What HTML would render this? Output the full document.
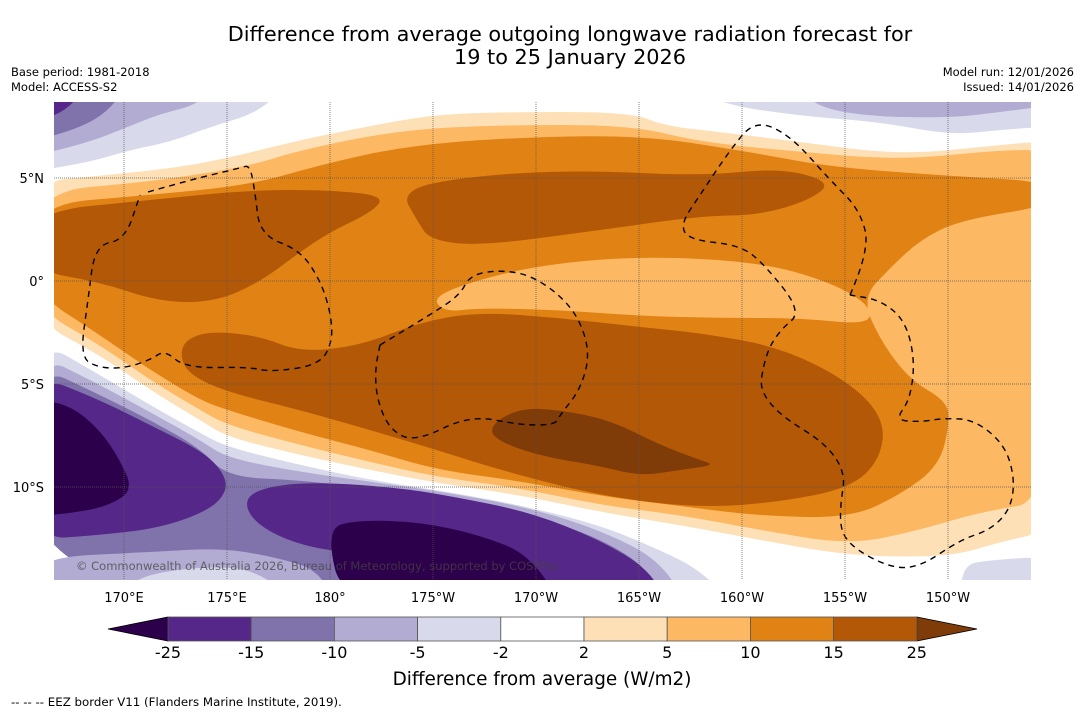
<!DOCTYPE html>
<html><head><meta charset="utf-8"><style>
body{margin:0;background:#fff;font-family:"DejaVu Sans","Liberation Sans",sans-serif;}
#wrap{position:relative;width:1085px;height:713px;overflow:hidden;background:#fff}
</style></head><body>
<div id="wrap">
<svg id="svg" width="1085" height="713" viewBox="0 0 1085 713" xmlns="http://www.w3.org/2000/svg" font-family="DejaVu Sans, Liberation Sans, sans-serif">
<text x="570" y="41" font-size="20.8" text-anchor="middle">Difference from average outgoing longwave radiation forecast for</text>
<text x="570" y="64" font-size="20.8" text-anchor="middle">19 to 25 January 2026</text>
<text x="11" y="76" font-size="11.5">Base period: 1981-2018</text>
<text x="11" y="91" font-size="11.5">Model: ACCESS-S2</text>
<text x="1074" y="76" font-size="11.5" text-anchor="end">Model run: 12/01/2026</text>
<text x="1074" y="91" font-size="11.5" text-anchor="end">Issued: 14/01/2026</text>
<defs><clipPath id="mc"><rect x="54" y="102" width="977" height="478"/></clipPath></defs>
<g id="map" clip-path="url(#mc)"></g>
<g id="cbar"></g>
<text x="542" y="685" font-size="18.4" text-anchor="middle">Difference from average (W/m2)</text>
<text x="11" y="706" font-size="11.8">--  --  -- EEZ border V11 (Flanders Marine Institute, 2019).</text>
</svg>
</div>
<script>
const levels=[-25,-15,-10,-5,-2,2,5,10,15,25];
const colors=["#2d004b","#542788","#8073ac","#b2abd2","#d8daeb","#ffffff","#fee0b6","#fdb863","#e08214","#b35806","#7f3b08"];
const lonLabels=["170°E","175°E","180°","175°W","170°W","165°W","160°W","155°W","150°W"];
const lonValues=[170,175,180,185,190,195,200,205,210];
const latLabels=["5°N","0°","5°S","10°S"];
const latValues=[5,0,-5,-10];
const NS="http://www.w3.org/2000/svg";
const svg=document.getElementById('svg'),map=document.getElementById('map'),cbar=document.getElementById('cbar');
const xLon=l=>124+(l-170)*20.6, yLat=l=>281-l*20.6;
function mk(t,a,p){const e=document.createElementNS(NS,t);for(const k in a)e.setAttribute(k,a[k]);(p||svg).appendChild(e);return e;}
function smooth(pts,closed){
 let n=pts.length;let d="";
 if(closed){
  const m=i=>{const a=pts[i%n],b=pts[(i+1)%n];return[(a[0]+b[0])/2,(a[1]+b[1])/2]};
  let s=m(n-1);d="M"+s[0]+","+s[1];
  for(let i=0;i<n;i++){const q=m(i);d+=" Q"+pts[i][0]+","+pts[i][1]+" "+q[0]+","+q[1];}
  return d+"Z";
 }
 d="M"+pts[0][0]+","+pts[0][1];
 for(let i=1;i<n-1;i++){const q=[(pts[i][0]+pts[i+1][0])/2,(pts[i][1]+pts[i+1][1])/2];d+=" Q"+pts[i][0]+","+pts[i][1]+" "+q[0]+","+q[1];}
 return d+" L"+pts[n-1][0]+","+pts[n-1][1];
}
function ext(pts){return pts.map(p=>[p[0]<=54?30:(p[0]>=1031?1055:p[0]),p[1]>=580?610:(p[1]<=102?80:p[1])]);}
function region(pts,ci,name){const p=mk('path',{d:smooth(ext(pts),true),fill:colors[ci]},map);

}
mk('rect',{x:54,y:102,width:977,height:478,fill:'#fff'},map);
const o1top=[[54,182],[100,176],[200,165],[300,140],[360,128],[430,115],[500,112],[630,112],[665,126],[720,132],[800,142],[900,155],[1000,145],[1031,140]];
const o1bot=[[1031,530],[1000,542],[950,557],[850,556],[760,540],[680,525],[600,512],[520,495],[437,483],[370,470],[300,455],[227,437],[200,420],[150,390],[100,355],[54,318]];
region(o1top.concat(o1bot),6,'band-2-5');
region([[54,192],[150,182],[250,166],[300,150],[400,130],[500,125],[630,125],[700,142],[800,152],[900,160],[1000,150],[1031,150],[1031,500],[980,512],[920,530],[850,545],[760,530],[680,515],[600,505],[520,488],[437,477],[370,462],[300,445],[227,425],[200,410],[150,380],[100,345],[54,305]],7,'band-5-10');
region([[54,205],[150,195],[250,185],[320,165],[400,147],[500,138],[640,135],[750,152],[830,167],[950,176],[1031,182],[1031,205],[960,220],[920,240],[890,268],[862,298],[880,340],[910,380],[945,400],[950,420],[940,465],[900,495],[850,518],[760,516],[680,506],[600,496],[520,481],[437,470],[370,450],[300,432],[227,410],[200,400],[150,370],[100,335],[54,290]],8,'band-10-15');
region([[432,298],[470,282],[540,265],[640,256],[760,262],[830,282],[870,305],[870,325],[800,318],[720,318],[640,316],[560,310],[480,308],[445,312]],7,'band-5-10-centre');
region([[54,212],[150,200],[250,190],[330,190],[385,196],[372,212],[330,232],[300,252],[260,282],[215,302],[160,302],[100,282],[54,270]],9,'band-15-25-west');
region([[400,190],[470,176],[580,170],[700,176],[780,168],[832,182],[810,200],[760,215],[700,216],[600,230],[480,246],[430,240],[418,222]],9,'band-15-25-north');
region([[185,340],[210,331],[260,336],[300,352],[360,346],[420,322],[480,312],[560,318],[640,327],[700,333],[780,347],[850,382],[885,420],[880,460],[850,488],[780,502],[700,508],[600,496],[500,470],[437,450],[370,430],[300,410],[227,392],[190,375],[180,357]],9,'band-15-25-south');
region([[490,425],[520,408],[560,410],[610,420],[660,445],[700,460],[715,465],[680,470],[640,476],[600,466],[540,456],[495,440]],10,'band-above-25');
region([[54,335],[100,375],[150,405],[200,433],[227,447],[300,465],[370,480],[437,490],[520,505],[600,525],[660,550],[700,570],[740,590],[54,590]],4,'band-m5-m2');
region([[54,350],[100,385],[150,412],[200,440],[227,458],[300,472],[380,483],[450,493],[530,508],[600,530],[660,560],[690,590],[54,590]],3,'band-m10-m5');
region([[54,362],[100,395],[150,420],[200,448],[227,477],[300,480],[380,490],[450,500],[530,515],[600,538],[650,570],[665,590],[54,590]],2,'band-m15-m10');
region([[54,372],[100,400],[150,425],[200,450],[222,470],[228,490],[210,510],[160,528],[100,535],[54,540]],1,'band-m25-m15-west');
region([[245,497],[270,486],[320,482],[400,488],[450,496],[530,512],[600,540],[650,570],[670,590],[560,590],[480,566],[400,552],[330,552],[280,538],[250,518]],1,'band-m25-m15-south');
region([[54,398],[70,405],[100,430],[120,460],[133,490],[110,505],[80,512],[54,517]],0,'band-below-m25-west');
region([[325,528],[360,520],[420,522],[480,535],[530,555],[565,590],[345,590]],0,'band-below-m25-south');
region([[54,558],[150,552],[220,548],[270,556],[320,570],[335,590],[54,590]],3,'band-m10-m5-sw');
region([[130,578],[200,566],[260,570],[300,590],[120,590]],4,'band-m5-m2-sw');
region([[960,590],[962,565],[990,560],[1031,556],[1040,590]],4,'band-m5-m2-se');
region([[40,90],[300,90],[290,102],[260,112],[210,127],[170,142],[130,150],[90,162],[54,172],[40,175]],4,'band-m5-m2-nw');
region([[40,90],[215,90],[200,104],[160,114],[130,126],[90,142],[54,157],[40,160]],3,'band-m10-m5-nw');
region([[40,90],[130,90],[110,110],[80,128],[54,142],[40,145]],2,'band-m15-m10-nw');
region([[40,90],[85,90],[72,108],[54,125],[40,128]],1,'band-m25-m15-nw');
region([[680,90],[1040,90],[1040,126],[1000,130],[950,135],[880,122],[800,116],[720,104]],4,'band-m5-m2-ne');
region([[800,90],[1040,90],[1040,105],[1000,112],[950,118],[860,116],[810,104]],3,'band-m10-m5-ne');
lonValues.forEach((l,i)=>{const x=xLon(l);const g=mk('line',{x1:x,y1:102,x2:x,y2:580,stroke:'#555','stroke-width':0.7,'stroke-dasharray':'1,1'});

const t=mk('text',{x:x,y:602,'font-size':13,'text-anchor':'middle'});t.textContent=lonLabels[i];
});
latValues.forEach((l,i)=>{const y=yLat(l);const g=mk('line',{x1:54,y1:y,x2:1031,y2:y,stroke:'#555','stroke-width':0.7,'stroke-dasharray':'1,1'});

const t=mk('text',{x:44,y:y+5,'font-size':13,'text-anchor':'end'});t.textContent=latLabels[i];
});
const eez=[
[[148,192],[190,180],[240,168],[250,165],[255,192],[260,235],[300,250],[320,280],[330,310],[333,340],[320,365],[270,372],[250,367],[185,368],[165,350],[150,360],[125,368],[100,368],[80,358],[88,300],[95,245],[125,240],[140,195]],
[[380,345],[430,315],[460,295],[470,275],[500,270],[530,275],[560,295],[580,320],[590,355],[580,390],[560,415],[555,425],[520,425],[470,415],[415,442],[390,430],[377,400],[375,370],[380,345]],
[[850,295],[870,250],[860,210],[830,180],[790,135],[755,120],[730,150],[700,195],[680,225],[690,240],[740,245],[765,265],[802,312],[780,330],[765,355],[758,402],[848,457],[838,520],[848,545],[890,568],[920,567],[960,540],[990,530],[1010,510],[1015,480],[1005,445],[975,420],[945,418],[920,422],[895,420],[910,400],[915,360],[905,320],[880,300],[850,295]]];
eez.forEach((p,i)=>{const e=mk('path',{d:smooth(p,false),fill:'none',stroke:'#000','stroke-width':1.4,'stroke-dasharray':'6,5'},map);
});
const cp=mk('text',{x:76,y:570,'font-size':11.5,fill:'#444','fill-opacity':0.75});cp.textContent="© Commonwealth of Australia 2026, Bureau of Meteorology, supported by COSPPac";

const cx0=168,cw=83.2,cy=617,ch=24;
const lt=mk('polygon',{points:`${cx0},${cy} ${cx0},${cy+ch} 108,${cy+ch/2}`,fill:colors[0],stroke:'#000','stroke-width':0.8},cbar);

const xe=cx0+cw*(levels.length-1);
const rt=mk('polygon',{points:`${xe},${cy} ${xe},${cy+ch} 977,${cy+ch/2}`,fill:colors[10],stroke:'#000','stroke-width':0.8},cbar);

for(let i=0;i<levels.length-1;i++){const r=mk('rect',{x:cx0+i*cw,y:cy,width:cw,height:ch,fill:colors[i+1],stroke:'#555','stroke-width':0.8},cbar);
}
levels.forEach((v,i)=>{const t=mk('text',{x:cx0+i*cw,y:658,'font-size':16,'text-anchor':'middle'},cbar);t.textContent=v;
});
</script>
</body></html>
